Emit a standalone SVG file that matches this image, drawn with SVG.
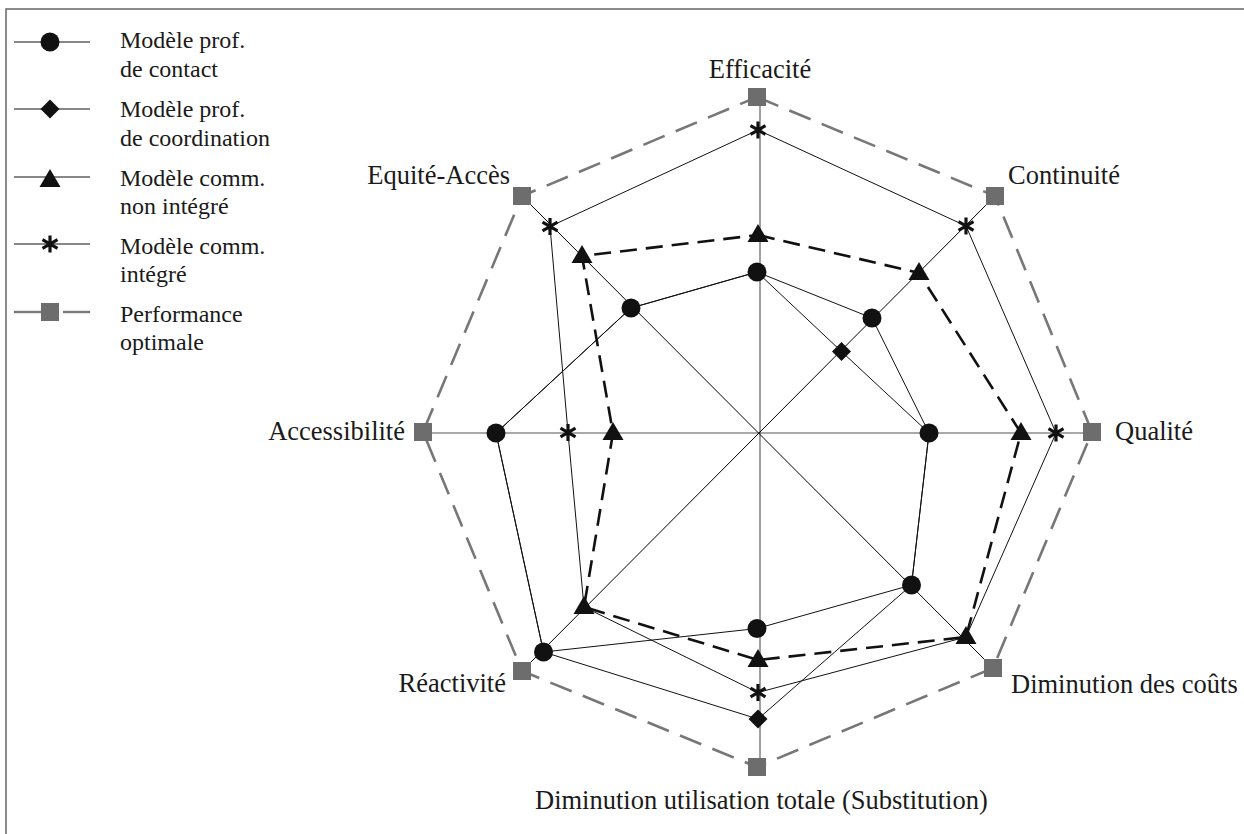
<svg xmlns="http://www.w3.org/2000/svg" xmlns:xlink="http://www.w3.org/1999/xlink" width="1244" height="834" viewBox="0 0 1244 834">
<style>
.lbl{font-family:"Liberation Serif","Times New Roman",serif;font-size:26.5px;fill:#1a1a1a}
.leg{font-family:"Liberation Serif","Times New Roman",serif;font-size:24px;fill:#1a1a1a}
.thin{fill:none;stroke:#111;stroke-width:1}
.tri{fill:none;stroke:#111;stroke-width:2.6;stroke-dasharray:17 9}
.opt{fill:none;stroke:#777;stroke-width:2.6;stroke-dasharray:23 12}
.axv{stroke:#8a8a8a;stroke-width:1.6}
.axh{stroke:#555;stroke-width:1.1}
.axd{stroke:#000;stroke-width:1}
</style>
<defs>
<circle id="mC" r="9.5" fill="#111"/>
<path id="mD" d="M0,-9.5L9.5,0L0,9.5L-9.5,0Z" fill="#111"/>
<path id="mT" d="M0,-11L10.5,7L-10.5,7Z" fill="#111"/>
<path id="mA" d="M0,-8.5V8.5M-7.5,-4.3L7.5,4.3M-7.5,4.3L7.5,-4.3" stroke="#111" stroke-width="3.2" fill="none"/>
<rect id="mS" x="-9" y="-9" width="18" height="18" fill="#6d6d6d"/>
</defs>
<rect width="1244" height="834" fill="#fff"/>
<path d="M6,834V9H1244" fill="none" stroke="#666" stroke-width="1.5"/>

<g id="legend">
<g id="leg-contact">
<line x1="14" y1="42" x2="90" y2="42" class="thin"/>
<use xlink:href="#mC" x="50" y="42"/>
<text class="leg" x="120" y="48">Modèle prof.</text>
<text class="leg" x="120" y="77">de contact</text>
</g>
<g id="leg-coordination">
<line x1="14" y1="109" x2="90" y2="109" class="thin"/>
<use xlink:href="#mD" x="50" y="109"/>
<text class="leg" x="120" y="117">Modèle prof.</text>
<text class="leg" x="120" y="146">de coordination</text>
</g>
<g id="leg-non-integre">
<line x1="14" y1="177" x2="90" y2="177" class="thin"/>
<use xlink:href="#mT" x="50" y="180"/>
<text class="leg" x="120" y="186">Modèle comm.</text>
<text class="leg" x="120" y="214">non intégré</text>
</g>
<g id="leg-integre">
<line x1="14" y1="244" x2="90" y2="244" class="thin"/>
<use xlink:href="#mA" x="50" y="244"/>
<text class="leg" x="120" y="254">Modèle comm.</text>
<text class="leg" x="120" y="282">intégré</text>
</g>
<g id="leg-optimale">
<line x1="14" y1="312" x2="41" y2="312" stroke="#777" stroke-width="2.4"/>
<line x1="63" y1="312" x2="90" y2="312" stroke="#777" stroke-width="2.4"/>
<use xlink:href="#mS" x="50" y="312"/>
<text class="leg" x="120" y="322">Performance</text>
<text class="leg" x="120" y="350">optimale</text>
</g>
</g>

<g id="axes">
<line x1="760" y1="97" x2="760" y2="767" class="axv"/>
<line x1="423" y1="433" x2="1092" y2="433" class="axh"/>
<line x1="522" y1="196" x2="993" y2="668" class="axd"/>
<line x1="995" y1="196" x2="522" y2="671" class="axd"/>
</g>

<g id="connectors">
<polygon id="s-optimale" class="opt" points="757,97 995,196 1092,432 993,668 757,767 522,671 423,432 522,196"/>
<polygon id="s-contact" class="thin" points="757,272 872,318 929,433 911.5,585 757,628.5 543.5,652 496,433 631,308"/>
<polygon id="s-coordination" class="thin" points="757,272 841.5,351.5 929,433 911.5,585 758,719 543.5,652 496,433 631,308"/>
<polygon id="s-integre" class="thin" points="758,130 966,226 1056,433 966,637 758,692.5 584,607 568,432.5 550,226.5"/>
<polygon id="s-non-integre" class="tri" points="758,235 919,273 1021,433 966,637 758,660 584,607 613,433 582,256"/>
</g>

<g id="markers">
<g id="m-optimale">
<use xlink:href="#mS" x="757" y="97"/><use xlink:href="#mS" x="995" y="196"/><use xlink:href="#mS" x="1092" y="432"/><use xlink:href="#mS" x="993" y="668"/>
<use xlink:href="#mS" x="757" y="767"/><use xlink:href="#mS" x="522" y="671"/><use xlink:href="#mS" x="423" y="432"/><use xlink:href="#mS" x="522" y="196"/>
</g>
<g id="m-coordination">
<use xlink:href="#mD" x="841.5" y="351.5"/><use xlink:href="#mD" x="758" y="719"/>
</g>
<g id="m-contact">
<use xlink:href="#mC" x="757" y="272"/><use xlink:href="#mC" x="872" y="318"/><use xlink:href="#mC" x="929" y="433"/><use xlink:href="#mC" x="911.5" y="585"/>
<use xlink:href="#mC" x="757" y="628.5"/><use xlink:href="#mC" x="543.5" y="652"/><use xlink:href="#mC" x="496" y="433"/><use xlink:href="#mC" x="631" y="308"/>
</g>
<g id="m-integre">
<use xlink:href="#mA" x="758" y="130"/><use xlink:href="#mA" x="966" y="226"/><use xlink:href="#mA" x="1056" y="433"/>
<use xlink:href="#mA" x="758" y="692.5"/><use xlink:href="#mA" x="568" y="432.5"/><use xlink:href="#mA" x="550" y="226.5"/>
</g>
<g id="m-non-integre">
<use xlink:href="#mT" x="758" y="235"/><use xlink:href="#mT" x="919" y="273"/><use xlink:href="#mT" x="1021" y="433"/><use xlink:href="#mT" x="966" y="637"/>
<use xlink:href="#mT" x="758" y="660"/><use xlink:href="#mT" x="584" y="607"/><use xlink:href="#mT" x="613" y="433"/><use xlink:href="#mT" x="582" y="256"/>
</g>
</g>

<g id="labels">
<text class="lbl" x="760" y="78" text-anchor="middle">Efficacité</text>
<text class="lbl" x="1008" y="184">Continuité</text>
<text class="lbl" x="1115" y="440">Qualité</text>
<text class="lbl" x="1011" y="693">Diminution des coûts</text>
<text class="lbl" x="535" y="809">Diminution utilisation totale (Substitution)</text>
<text class="lbl" x="506" y="692" text-anchor="end">Réactivité</text>
<text class="lbl" x="405" y="440" text-anchor="end">Accessibilité</text>
<text class="lbl" x="510" y="184" text-anchor="end">Equité-Accès</text>
</g>
</svg>
